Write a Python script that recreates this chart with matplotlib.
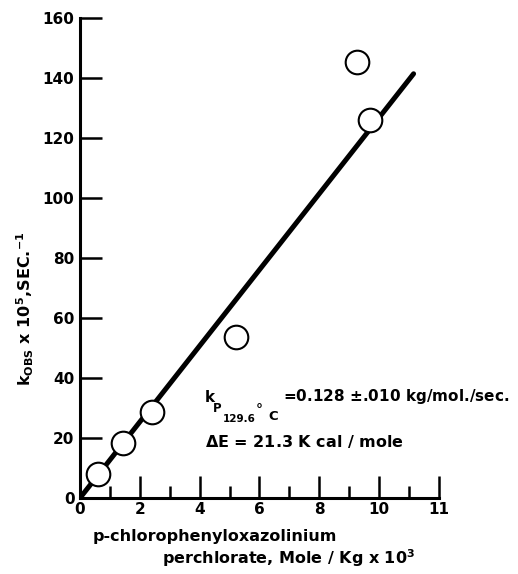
import matplotlib
matplotlib.use("Agg")
import matplotlib.pyplot as plt
import numpy as np

conc = [0.61, 1.45, 2.41, 5.2, 9.26, 9.71]
k_obs = [8.0, 18.2, 28.6, 53.8, 145.4, 126.0]

# fitted line end points
fit_x = [0.0, 11.15]
fit_y = [0.0, 141.5]

x_ticks = [0, 2, 4, 6, 8, 10, 12]
x_tick_labels = ["0", "2", "4", "6", "8", "10", "11"]
x_minor = [1, 3, 5, 7, 9, 11]
y_ticks = [0, 20, 40, 60, 80, 100, 120, 140, 160]

plt.rcParams['mathtext.default'] = 'bf'
plt.rcParams['font.weight'] = 'bold'

W, H = 518, 574

def px(x, y):
    # pixel position (from top left) -> figure fraction
    return x / W, 1 - y / H

fig = plt.figure(figsize=(5.18, 5.74), dpi=100)
ax = fig.add_axes([0.1544, 0.1324, 0.6931, 0.8357])

ax.plot(fit_x, fit_y, "-", color="black", lw=3.6, solid_capstyle="round", zorder=2)
ax.plot(conc, k_obs, "o", markersize=17, markerfacecolor="white",
        markeredgecolor="black", markeredgewidth=1.5, zorder=3)

ax.set_xlim(0, 12)
ax.set_ylim(0, 160)
for s in ["top", "right"]:
    ax.spines[s].set_visible(False)
for s in ["left", "bottom"]:
    ax.spines[s].set_linewidth(2.2)

ax.set_xticks(x_ticks)
ax.set_xticklabels(x_tick_labels)
ax.set_xticks(x_minor, minor=True)
ax.set_yticks(y_ticks)
ax.tick_params(axis="x", which="major", direction="in", length=16, width=1.8,
               labelsize=11, pad=3)
ax.tick_params(axis="x", which="minor", direction="in", length=8.5, width=1.8)
ax.tick_params(axis="y", which="major", direction="in", length=16, width=1.8,
               labelsize=11, pad=4)
for lab in ax.get_xticklabels() + ax.get_yticklabels():
    lab.set_fontweight("bold")

fig.text(*px(25, 309), r"k$_{OBS}$ x 10$^5$,SEC.$^{-1}$", rotation=90,
         ha="center", va="center", fontsize=11.5, fontweight="bold")

fig.text(*px(93, 537), "p-chlorophenyloxazolinium", ha="left", va="center",
         fontsize=11.5, fontweight="bold")
fig.text(*px(162, 558), r"perchlorate, Mole / Kg x 10$^3$", ha="left", va="center",
         fontsize=11.5, fontweight="bold")

# rate constant annotation
fig.text(*px(205, 398), "k", ha="left", va="center", fontsize=11, fontweight="bold")
fig.text(*px(213, 409), "P", ha="left", va="center", fontsize=8.5, fontweight="bold")
fig.text(*px(223, 419), "129.6", ha="left", va="center", fontsize=7.5,
         fontweight="bold")
fig.text(*px(256, 410), "\u00b0", ha="left", va="center", fontsize=10,
         fontweight="bold")
fig.text(*px(268, 417), "C", ha="left", va="center", fontsize=9.5,
         fontweight="bold")
fig.text(*px(283, 397), r"=0.128 $\pm$.010 kg/mol./sec.", ha="left", va="center",
         fontsize=11, fontweight="bold")
fig.text(*px(205, 441), r"$\Delta$E = 21.3 K cal / mole",
         ha="left", va="center", fontsize=11.5, fontweight="bold")

fig.savefig("out.png", dpi=100)
